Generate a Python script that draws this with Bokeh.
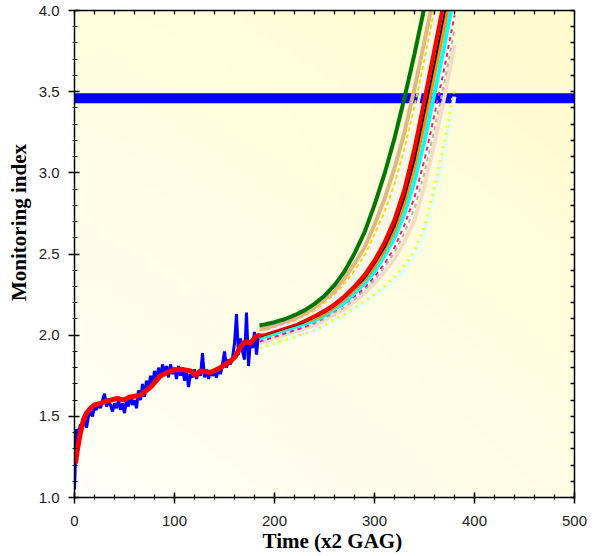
import numpy as np
from bokeh.plotting import figure
from bokeh.models import Range1d, LinearAxis, FixedTicker, PrintfTickFormatter, Span
from bokeh.embed import file_html
from bokeh.resources import INLINE

# ---------------- data ----------------
x_ticks = [0, 100, 200, 300, 400, 500]
x_minor = [0, 20, 40, 60, 80, 100, 120, 140, 160, 180, 200, 220, 240, 260, 280, 300,
           320, 340, 360, 380, 400, 420, 440, 460, 480, 500]
y_ticks = [1.0, 1.5, 2.0, 2.5, 3.0, 3.5, 4.0]
y_minor = [1.0, 1.1, 1.2, 1.3, 1.4, 1.5, 1.6, 1.7, 1.8, 1.9, 2.0, 2.1, 2.2, 2.3, 2.4, 2.5,
           2.6, 2.7, 2.8, 2.9, 3.0, 3.1, 3.2, 3.3, 3.4, 3.5, 3.6, 3.7, 3.8, 3.9, 4.0]

threshold = 3.46

obs_x = list(range(0, 186, 2))
obs_y = [1.05, 1.42, 1.40, 1.45, 1.44, 1.48, 1.43, 1.50, 1.53, 1.50, 1.56, 1.54, 1.58, 1.55,
         1.60, 1.64, 1.56, 1.59, 1.57, 1.53, 1.58, 1.55, 1.60, 1.54, 1.58, 1.52, 1.60, 1.56,
         1.63, 1.57, 1.60, 1.55, 1.66, 1.60, 1.70, 1.62, 1.72, 1.66, 1.75, 1.70, 1.78, 1.72,
         1.80, 1.74, 1.82, 1.76, 1.81, 1.74, 1.82, 1.76, 1.80, 1.73, 1.81, 1.75, 1.80, 1.72,
         1.79, 1.68, 1.76, 1.74, 1.79, 1.73, 1.78, 1.75, 1.89, 1.74, 1.79, 1.73, 1.78, 1.75,
         1.77, 1.74, 1.80, 1.76, 1.82, 1.90, 1.80, 1.85, 1.82, 1.86, 1.95, 2.13, 1.88, 1.98,
         1.90, 1.85, 2.14, 1.81, 1.97, 1.92, 2.02, 1.88, 2.00]

smooth_x = [1, 3, 6, 9, 12, 16, 20, 26, 30, 36, 43, 49, 56, 66, 76, 86, 96, 106, 116, 121,
            126, 136, 146, 156, 161, 166, 171, 176, 181, 185]
smooth_y = [1.21, 1.30, 1.40, 1.48, 1.52, 1.55, 1.57, 1.58, 1.59, 1.60, 1.61, 1.60, 1.62,
            1.63, 1.68, 1.75, 1.78, 1.79, 1.78, 1.75, 1.78, 1.77, 1.80, 1.84, 1.87, 1.93,
            1.96, 1.95, 1.99, 2.00]

fc_x = [185, 190, 200, 210, 220, 230, 240, 250, 260, 270, 280, 290, 300, 310, 320, 330,
        340, 350, 360, 370, 380]
fc_green  = [2.06, 2.066, 2.08, 2.098, 2.123, 2.153, 2.193, 2.243, 2.308, 2.393, 2.503, 2.633,
             2.803, 2.993, 3.213, 3.463, 3.733, 4.023, 4.32, 4.62, 4.92]
fc_tan    = [2.04, 2.04, 2.06, 2.08, 2.10, 2.13, 2.17, 2.22, 2.27, 2.35, 2.44, 2.54, 2.68,
             2.84, 3.03, 3.25, 3.52, 3.81, 4.11, 4.42, 4.72]
fc_gold   = [2.03, 2.03, 2.05, 2.07, 2.09, 2.12, 2.15, 2.20, 2.25, 2.32, 2.40, 2.49, 2.62,
             2.76, 2.93, 3.15, 3.41, 3.70, 4.01, 4.31, 4.62]
fc_white  = [2.02, 2.02, 2.04, 2.06, 2.08, 2.11, 2.14, 2.18, 2.23, 2.29, 2.36, 2.45, 2.56,
             2.70, 2.86, 3.07, 3.32, 3.62, 3.93, 4.23, 4.54]
fc_red    = [2.00, 2.01, 2.03, 2.05, 2.07, 2.09, 2.12, 2.15, 2.19, 2.24, 2.30, 2.37, 2.46,
             2.57, 2.71, 2.90, 3.15, 3.45, 3.76, 4.07, 4.38]
fc_black  = [1.99, 2.00, 2.02, 2.04, 2.06, 2.08, 2.11, 2.14, 2.18, 2.23, 2.29, 2.35, 2.44,
             2.54, 2.67, 2.85, 3.08, 3.37, 3.67, 3.98, 4.29]
fc_orange = [1.99, 2.00, 2.02, 2.04, 2.06, 2.08, 2.10, 2.13, 2.17, 2.22, 2.28, 2.34, 2.42,
             2.52, 2.64, 2.81, 3.03, 3.30, 3.60, 3.90, 4.22]
fc_cyan   = [1.98, 1.99, 2.01, 2.03, 2.05, 2.07, 2.09, 2.12, 2.16, 2.20, 2.26, 2.32, 2.39,
             2.49, 2.60, 2.75, 2.95, 3.20, 3.49, 3.79, 4.11]
fc_pink   = [1.96, 1.97, 1.99, 2.01, 2.03, 2.05, 2.08, 2.11, 2.15, 2.19, 2.24, 2.29, 2.36,
             2.44, 2.54, 2.68, 2.85, 3.08, 3.36, 3.65, 3.97]
fc_gray   = [1.96, 1.97, 1.99, 2.01, 2.03, 2.05, 2.07, 2.10, 2.14, 2.17, 2.22, 2.28, 2.34,
             2.42, 2.51, 2.63, 2.78, 3.00, 3.27, 3.56, 3.88]
fc_bisque = [1.95, 1.96, 1.98, 2.00, 2.02, 2.04, 2.06, 2.09, 2.13, 2.16, 2.21, 2.26, 2.32,
             2.39, 2.47, 2.58, 2.71, 2.92, 3.18, 3.47, 3.79]
fc_ydot   = [1.92, 1.93, 1.95, 1.97, 1.99, 2.01, 2.03, 2.06, 2.10, 2.13, 2.17, 2.21, 2.25,
             2.30, 2.36, 2.43, 2.52, 2.67, 2.91, 3.19, 3.52]
fc_azure  = [1.92, 1.93, 1.95, 1.97, 1.99, 2.01, 2.03, 2.06, 2.09, 2.12, 2.16, 2.20, 2.24,
             2.29, 2.34, 2.40, 2.49, 2.63, 2.86, 3.14, 3.47]

x_title = "Time (x2 GAG)"
y_title = "Monitoring index"

# ---------------- figure ----------------
X0, X1 = 0, 500
Y0, Y1 = 1.0, 4.0

p = figure(frame_width=500, frame_height=487,
           x_range=Range1d(X0, X1), y_range=Range1d(Y0, Y1),
           output_backend="svg", toolbar_location=None,
           min_border_left=74, min_border_right=16, min_border_top=10, min_border_bottom=54,
           border_fill_color="white", background_fill_color="white")
p.grid.visible = False
p.outline_line_color = None

# background gradient (style only)
H, W = 64, 64
img = np.empty((H, W), dtype=np.uint32)
view = img.view(dtype=np.uint8).reshape((H, W, 4))
v = np.linspace(0, 1, H)[:, None, None]
u = np.linspace(0, 1, W)[None, :, None]
BL = np.array([255, 255, 249.0]); TL = np.array([255, 254, 222.0])
BR = np.array([255, 253, 228.0]); TR = np.array([254, 251, 206.0])
col = (1 - v) * ((1 - u) * BL + u * BR) + v * ((1 - u) * TL + u * TR)
view[:, :, :3] = np.clip(col, 0, 255).astype(np.uint8)
view[:, :, 3] = 255
p.image_rgba(image=[img], x=X0, y=Y0, dw=X1 - X0, dh=Y1 - Y0, level="image")

# threshold band
p.add_layout(Span(location=threshold, dimension="width", line_color="#0000ff",
                  line_width=10, level="underlay"))

# observed + smoothed
p.line(obs_x, obs_y, line_color="#0000ff", line_width=3)
p.line(smooth_x, smooth_y, line_color="#ff0000", line_width=5)

# forecasts
styles = [
    (fc_azure, "#e2ffff", 4, "solid"),
    (fc_ydot, "#ffff00", 3, "2 5"),
    (fc_bisque, "#f6dcc6", 4, "solid"),
    (fc_gray, "#b4b4b4", 2, "4 4"),
    (fc_pink, "#ff1493", 2, "4 4"),
    (fc_cyan, "#00ffff", 4, "solid"),
    (fc_orange, "#ff8c00", 3, "solid"),
    (fc_black, "#000000", 2, "solid"),
    (fc_red, "#ff0000", 4, "solid"),
    (fc_white, "#f4f4ff", 3, "solid"),
    (fc_gold, "#ffd700", 2, "4 3"),
    (fc_tan, "#deb887", 4, "solid"),
    (fc_green, "#007800", 4, "solid"),
]
for ys, c, w, d in styles:
    p.line(fc_x, ys, line_color=c, line_width=w, line_dash=d)

# ---------------- axes ----------------
LABEL_FONT = "Liberation Sans"
TITLE_FONT = "Liberation Serif"
NBSP = "\u00a0"

xa = p.xaxis[0]
xa.ticker = FixedTicker(ticks=x_ticks, minor_ticks=x_minor)
xa.formatter = PrintfTickFormatter(format="%d")
xa.axis_label = NBSP * 3 + x_title
xa.axis_label_standoff = 0
ya = p.yaxis[0]
ya.ticker = FixedTicker(ticks=y_ticks, minor_ticks=y_minor)
ya.formatter = PrintfTickFormatter(format="%.1f")
# leading padding lifts the title above the frame centre, as in the original
ya.axis_label = NBSP * 12 + y_title
ya.axis_label_standoff = 5

for ax in (xa, ya):
    ax.axis_label_text_font = TITLE_FONT
    ax.axis_label_text_font_style = "bold"
    ax.axis_label_text_font_size = "21px"
    ax.axis_label_text_color = "#000000"
    ax.major_label_text_font = LABEL_FONT
    ax.major_label_text_font_size = "15px"
    ax.major_label_text_color = "#222222"
    ax.axis_line_width = 1.5
    ax.axis_line_color = "#000000"
    ax.major_tick_line_width = 1.5
    ax.minor_tick_line_width = 1.2
    ax.major_tick_out = 6
    ax.major_tick_in = 5
    ax.minor_tick_out = 2
    ax.minor_tick_in = 3
xa.major_label_standoff = 12
ya.major_label_standoff = 9

# mirrored ticks on top and right (no labels)
top = LinearAxis(ticker=FixedTicker(ticks=[], minor_ticks=x_minor),
                 major_label_standoff=0, major_tick_in=0, major_tick_out=0,
                 minor_tick_in=4, minor_tick_out=0,
                 axis_line_width=1.5, minor_tick_line_width=1.3)
right = LinearAxis(ticker=FixedTicker(ticks=[], minor_ticks=y_minor),
                   major_label_standoff=0, major_tick_in=0, major_tick_out=0,
                   minor_tick_in=4, minor_tick_out=0,
                   axis_line_width=1.5, minor_tick_line_width=1.3)
p.add_layout(top, "above")
p.add_layout(right, "right")

open("out.html", "w").write(file_html(p, INLINE))
